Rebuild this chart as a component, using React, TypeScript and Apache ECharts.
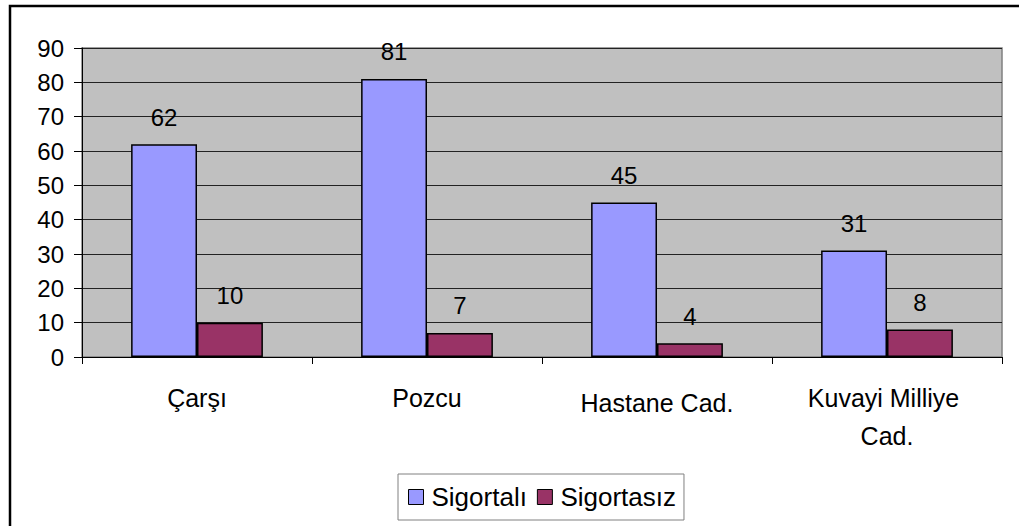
import React, { useEffect, useRef } from "react";
import * as echarts from "echarts";

const categories = ["Çarşı", "Pozcu", "Hastane Cad.", "Kuvayi Milliye Cad."];
const seriesNames = ["Sigortalı", "Sigortasız"];
const sigortali = [62, 81, 45, 31];
const sigortasiz = [10, 7, 4, 8];
const colors = ["#9999FF", "#993366"];

export default function App() {
  const ref = useRef<HTMLDivElement>(null);
  useEffect(() => {
    if (!ref.current) return;
    const chart = echarts.init(ref.current, null, { renderer: "svg" });
    const font = "'Liberation Sans', Arial, sans-serif";
    const labelStyle = {
      show: true,
      position: "top" as const,
      distance: 15,
      fontSize: 24,
      color: "#000",
      fontFamily: font,
    };
    chart.setOption({
      animation: false,
      backgroundColor: "#fff",
      textStyle: { fontFamily: font },
      graphic: [
        {
          type: "rect",
          shape: { x: 10, y: 6, width: 1200, height: 700 },
          style: { fill: "none", stroke: "#000", lineWidth: 2.5 },
          silent: true,
        },
      ],
      grid: {
        left: 82,
        top: 48,
        width: 920,
        height: 309,
        show: true,
        backgroundColor: "#C0C0C0",
        borderColor: "#808080",
        borderWidth: 1.5,
      },
      legend: {
        left: 398,
        top: 474,
        padding: [10, 8, 10, 10],
        itemWidth: 15,
        itemHeight: 15,
        itemGap: 10,
        backgroundColor: "#fff",
        borderColor: "#808080",
        borderWidth: 1,
        borderRadius: 0,
        icon: "rect",
        itemStyle: { borderColor: "#000", borderWidth: 1 },
        textStyle: { fontSize: 26, color: "#000", fontFamily: font, padding: [0, 0, 0, 3] },
        data: seriesNames,
      },
      xAxis: {
        type: "category",
        data: categories,
        axisLine: { lineStyle: { color: "#000", width: 1 } },
        axisTick: { show: true, length: 7, lineStyle: { color: "#000" } },
        axisLabel: {
          fontSize: 25,
          color: "#000",
          margin: 22,
          lineHeight: 38,
          width: 190,
          overflow: "break",
          fontFamily: font,
          interval: 0,
          formatter: (v: string, i: number) => (i === 2 ? "{low|" + v + "}" : v),
          rich: {
            low: { fontSize: 25, color: "#000", fontFamily: font, padding: [10, 0, 0, 0] },
          },
        },
      },
      yAxis: {
        type: "value",
        min: 0,
        max: 90,
        interval: 10,
        axisLine: { show: true, lineStyle: { color: "#000", width: 1 } },
        axisTick: { show: true, length: 8, lineStyle: { color: "#000" } },
        axisLabel: { fontSize: 24, color: "#000", margin: 18, fontFamily: font },
        splitLine: { lineStyle: { color: "#222", width: 1.2 } },
      },
      series: [
        {
          name: seriesNames[0],
          type: "bar",
          data: sigortali,
          barGap: "0%",
          barCategoryGap: "42.7%",
          itemStyle: { color: colors[0], borderColor: "#000", borderWidth: 1.5 },
          label: labelStyle,
        },
        {
          name: seriesNames[1],
          type: "bar",
          data: sigortasiz,
          itemStyle: { color: colors[1], borderColor: "#000", borderWidth: 1.5 },
          label: labelStyle,
        },
      ],
    });
    return () => chart.dispose();
  }, []);
  return (
    <div
      ref={ref}
      style={{ position: "fixed", left: 0, top: 0, width: 1019, height: 526 }}
    />
  );
}
